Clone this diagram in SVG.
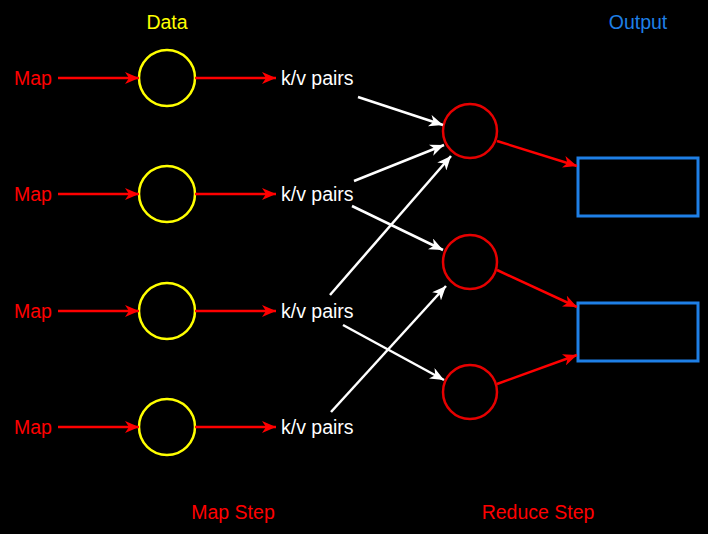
<svg xmlns="http://www.w3.org/2000/svg" width="708" height="534" viewBox="0 0 708 534">
<defs>
<marker id="aw" markerWidth="14" markerHeight="12" refX="14" refY="6" orient="auto" markerUnits="userSpaceOnUse"><path d="M0,0 L14,6 L0,12 L4,6 Z" fill="#ffffff"/></marker>
<marker id="ar2" markerWidth="14" markerHeight="12" refX="14" refY="6" orient="auto" markerUnits="userSpaceOnUse"><path d="M0,0 L14,6 L0,12 L4,6 Z" fill="#ff0000"/></marker>
</defs>
<style>
text{font-family:"Liberation Sans",Arial,sans-serif;font-size:19.5px}
.r{fill:#ff0000}.w{fill:#ffffff}
.data{fill:none;stroke:#ffff00;stroke-width:2.5}
.red{fill:none;stroke:#e60000;stroke-width:2.5}
.box{fill:none;stroke:#1e7fe6;stroke-width:3}
.rl{stroke:#ff0000;stroke-width:2.5;fill:none;marker-end:url(#ar2)}
.wl{stroke:#ffffff;stroke-width:2.5;fill:none;marker-end:url(#aw)}
</style>
<rect width="708" height="534" fill="#000"/>
<text x="167" y="29" text-anchor="middle" fill="#ffff00">Data</text>
<text x="638" y="29" text-anchor="middle" fill="#1e7fe6">Output</text>
<text x="233" y="519" text-anchor="middle" class="r">Map Step</text>
<text x="538" y="519" text-anchor="middle" class="r">Reduce Step</text>
<g id="map1"><text x="14" y="85" class="r">Map</text></g>
<g id="map2"><text x="14" y="201" class="r">Map</text></g>
<g id="map3"><text x="14" y="318" class="r">Map</text></g>
<g id="map4"><text x="14" y="434" class="r">Map</text></g>
<g id="data1"><circle cx="167" cy="78" r="28" class="data"/></g>
<g id="data2"><circle cx="167" cy="194" r="28" class="data"/></g>
<g id="data3"><circle cx="167" cy="311" r="28" class="data"/></g>
<g id="data4"><circle cx="167" cy="427" r="28" class="data"/></g>
<g id="kv1"><text x="281" y="85" class="w">k/v pairs</text></g>
<g id="kv2"><text x="281" y="201" class="w">k/v pairs</text></g>
<g id="kv3"><text x="281" y="318" class="w">k/v pairs</text></g>
<g id="kv4"><text x="281" y="434" class="w">k/v pairs</text></g>
<g id="reduce1"><circle cx="470" cy="131" r="27" class="red"/></g>
<g id="reduce2"><circle cx="470" cy="262" r="27" class="red"/></g>
<g id="reduce3"><circle cx="470" cy="392" r="27" class="red"/></g>
<g id="out1"><rect x="578" y="158" width="120" height="58" class="box"/></g>
<g id="out2"><rect x="578" y="303" width="120" height="58" class="box"/></g>
<g id="connectors">
<line x1="58" y1="78" x2="139" y2="78" class="rl"/>
<line x1="58" y1="194" x2="139" y2="194" class="rl"/>
<line x1="58" y1="311" x2="139" y2="311" class="rl"/>
<line x1="58" y1="427" x2="139" y2="427" class="rl"/>
<line x1="195" y1="78" x2="276" y2="78" class="rl"/>
<line x1="195" y1="194" x2="276" y2="194" class="rl"/>
<line x1="195" y1="311" x2="276" y2="311" class="rl"/>
<line x1="195" y1="427" x2="276" y2="427" class="rl"/>
<line x1="358" y1="97" x2="443" y2="125" class="wl"/>
<line x1="354" y1="181" x2="444" y2="145" class="wl"/>
<line x1="352" y1="206" x2="443" y2="250" class="wl"/>
<line x1="330" y1="295" x2="451" y2="156" class="wl"/>
<line x1="343" y1="325" x2="444" y2="380" class="wl"/>
<line x1="331" y1="412" x2="446" y2="286" class="wl"/>
<line x1="497" y1="141" x2="577" y2="166" class="rl"/>
<line x1="497" y1="270" x2="577" y2="307" class="rl"/>
<line x1="497" y1="384" x2="577" y2="355" class="rl"/>
</g>
</svg>
